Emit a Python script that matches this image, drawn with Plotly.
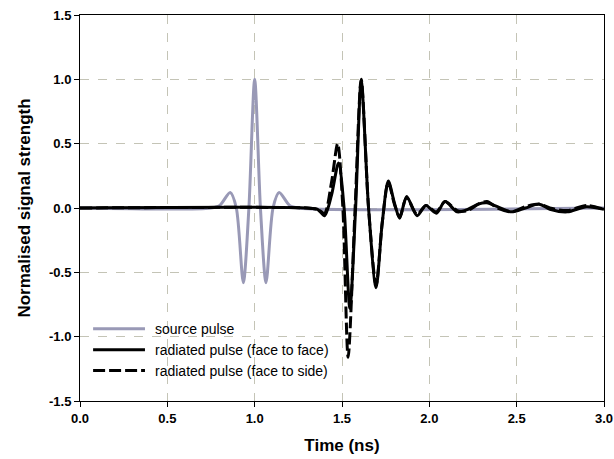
import plotly.graph_objects as go

# source pulse (grey)
t_src = [0.0, 0.75, 0.80, 0.86, 0.895, 0.935, 0.967, 1.0, 1.033, 1.065, 1.105, 1.14, 1.20, 1.25, 3.0]
y_src = [0.0, 0.0, 0.02, 0.12, 0.0, -0.58, 0.0, 1.0, 0.0, -0.58, 0.0, 0.12, 0.02, 0.0, 0.0]

# radiated pulse, face to face (solid)
t_ff = [0.0, 1.30, 1.36, 1.40, 1.44, 1.48, 1.512, 1.545, 1.578, 1.61, 1.652, 1.695, 1.73, 1.765,
        1.80, 1.83, 1.87, 1.93, 1.98, 2.04, 2.09, 2.16, 2.22, 2.28, 2.33, 2.39, 2.47, 2.55,
        2.63, 2.69, 2.79, 2.90, 3.0]
y_ff = [0.0, 0.0, -0.01, -0.06, 0.10, 0.35, 0.0, -0.78, 0.0, 0.99, 0.0, -0.62, -0.12, 0.21,
        0.04, -0.08, 0.09, -0.06, 0.02, -0.04, 0.05, -0.03, -0.01, 0.03, 0.04, 0.01, -0.03, 0.0,
        0.03, -0.01, -0.03, 0.01, -0.01]

# radiated pulse, face to side (dashed)
t_fs = [0.0, 1.30, 1.36, 1.40, 1.44, 1.475, 1.505, 1.535, 1.575, 1.61, 1.652, 1.695, 1.73, 1.765,
        1.80, 1.83, 1.87, 1.93, 1.98, 2.04, 2.09, 2.16, 2.22, 2.28, 2.33, 2.39, 2.47, 2.55,
        2.63, 2.69, 2.79, 2.90, 3.0]
y_fs = [0.0, 0.0, -0.01, -0.04, 0.20, 0.50, 0.0, -1.16, 0.0, 1.0, 0.0, -0.60, -0.12, 0.20,
        0.03, -0.07, 0.08, -0.05, 0.02, -0.03, 0.05, -0.02, -0.02, 0.03, 0.05, 0.0, -0.03, 0.01,
        0.03, 0.0, -0.02, 0.02, -0.01]

legend_names = ["source pulse", "radiated pulse (face to face)", "radiated pulse (face to side)"]

x_ticks = [0.0, 0.5, 1.0, 1.5, 2.0, 2.5, 3.0]
x_ticktext = ["0.0", "0.5", "1.0", "1.5", "2.0", "2.5", "3.0"]
y_ticks = [-1.5, -1.0, -0.5, 0.0, 0.5, 1.0, 1.5]
y_ticktext = ["-1.5", "-1.0", "-0.5", "0.0", "0.5", "1.0", "1.5"]

grey = "#9999b6"
gridc = "#c4c4b6"
font = "Liberation Sans, Arial, sans-serif"
dash = "12px,4px"

fig = go.Figure()
fig.add_trace(go.Scatter(x=t_src, y=y_src, mode="lines", name=legend_names[0],
                         line=dict(color=grey, width=3, shape="spline", smoothing=0.8)))
fig.add_trace(go.Scatter(x=t_ff, y=y_ff, mode="lines", name=legend_names[1],
                         line=dict(color="black", width=3, shape="spline", smoothing=0.8)))
fig.add_trace(go.Scatter(x=t_fs, y=y_fs, mode="lines", name=legend_names[2],
                         line=dict(color="black", width=3, dash=dash, shape="spline", smoothing=0.8)))

# hand-drawn legend, bottom left inside the plot
styles = [dict(color=grey, width=3), dict(color="black", width=3), dict(color="black", width=3, dash=dash)]
for i, (name, st) in enumerate(zip(legend_names, styles)):
    yy = 0.187 - i * 0.054
    fig.add_shape(type="line", xref="paper", yref="paper", x0=0.025, x1=0.124, y0=yy, y1=yy, line=st)
    fig.add_annotation(xref="paper", yref="paper", x=0.140, y=yy, text=name, showarrow=False,
                       xanchor="left", yanchor="middle",
                       font=dict(family=font, size=14, color="black"))

axis_common = dict(showline=True, linecolor="black", linewidth=1, mirror=True,
                   ticks="outside", ticklen=5, tickcolor="black",
                   showgrid=True, gridcolor=gridc, griddash="dash", gridwidth=1,
                   zeroline=False, automargin=False,
                   tickfont=dict(family=font, size=13, color="black", weight="bold"))

fig.update_xaxes(range=[0, 3], tickvals=x_ticks, ticktext=x_ticktext,
                 title=dict(text="Time (ns)", font=dict(family=font, size=17, color="black", weight="bold"), standoff=14),
                 **axis_common)
fig.update_yaxes(range=[-1.5, 1.5], tickvals=y_ticks, ticktext=y_ticktext,
                 title=dict(text="Normalised signal strength", font=dict(family=font, size=17, color="black", weight="bold"), standoff=14),
                 **axis_common)

fig.update_layout(width=614, height=459, showlegend=False,
                  plot_bgcolor="white", paper_bgcolor="white",
                  margin=dict(l=80, r=10, t=15, b=58))

fig.write_html("out.html", config={"displayModeBar": False},
               post_script="document.body.style.margin='0px';")
